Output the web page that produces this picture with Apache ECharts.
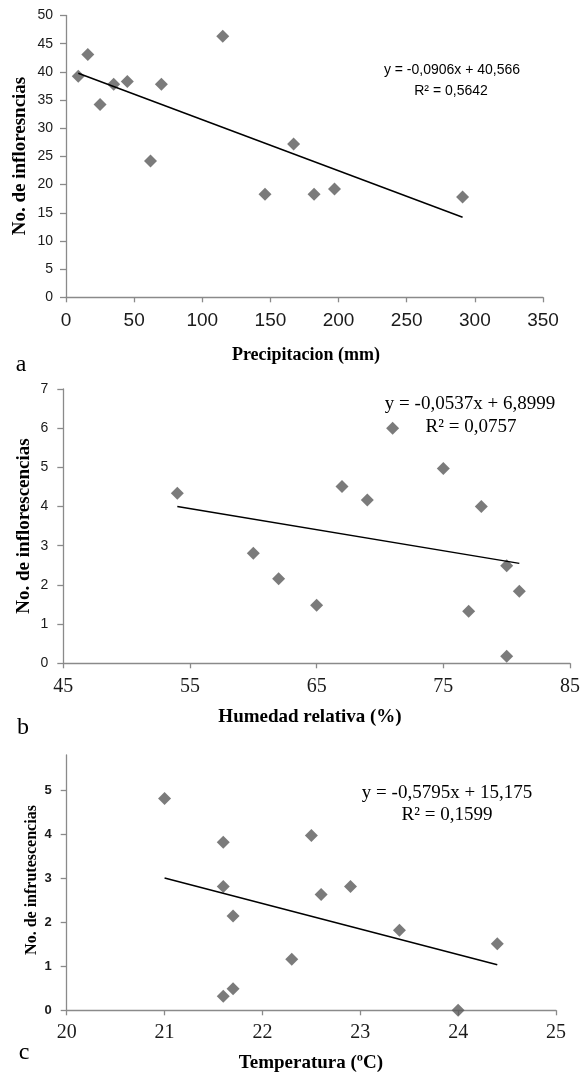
<!DOCTYPE html>
<html><head><meta charset="utf-8">
<script src="https://cdn.jsdelivr.net/npm/echarts@6/dist/echarts.min.js"></script>
<style>html,body{margin:0;padding:0;background:#fff}#c{width:586px;height:1074px}</style>
</head><body><div id="c"></div>
<script>
// Panel a: precipitation
const precipX = [9, 16, 25, 35, 45, 62, 70, 115, 146, 167, 182, 197, 291];
const precipY = [39.2, 43.1, 34.2, 37.8, 38.3, 24.2, 37.8, 46.3, 18.3, 27.2, 18.3, 19.2, 17.8];
const trendA = [-0.0906, 40.566];
const ticksAX = [0, 50, 100, 150, 200, 250, 300, 350];
const ticksAY = [0, 5, 10, 15, 20, 25, 30, 35, 40, 45, 50];
// Panel b: relative humidity
const humX = [54, 60, 62, 65, 67, 69, 71, 75, 77, 78, 80, 81, 80];
const humY = [4.34, 2.81, 2.16, 1.48, 4.51, 4.17, 6.0, 4.97, 1.33, 4.0, 2.49, 1.84, 0.18];
const trendB = [-0.0537, 6.8999];
const ticksBX = [45, 55, 65, 75, 85];
const ticksBY = [0, 1, 2, 3, 4, 5, 6, 7];
// Panel c: temperature
const tempX = [21.0, 21.6, 21.6, 21.7, 21.6, 21.7, 22.3, 22.5, 22.6, 22.9, 23.4, 24.0, 24.4];
const tempY = [4.81, 3.82, 2.81, 2.14, 0.32, 0.49, 1.16, 3.97, 2.63, 2.81, 1.82, 0.0, 1.51];
const trendC = [-0.5795, 15.175];
const ticksCX = [20, 21, 22, 23, 24, 25];
const ticksCY = [0, 1, 2, 3, 4, 5];

const SERIF = '"Liberation Serif", "Times New Roman", serif';
const SANS = '"Liberation Sans", Arial, sans-serif';
const NARROW = '"Liberation Sans Narrow", "Liberation Sans", Arial, sans-serif';
const AX = '#8a8a8a';
const MK = '#5a5a5a';

function pairs(xs, ys) { return xs.map((x, i) => [x, ys[i]]); }
function trend(xs, c) {
  const lo = Math.min(...xs), hi = Math.max(...xs);
  return [[lo, c[0] * lo + c[1]], [hi, c[0] * hi + c[1]]];
}
function xAx(gi, ticks, interval, font, size, margin) {
  return {
    type: 'value', gridIndex: gi, min: ticks[0], max: ticks[ticks.length - 1], interval: interval,
    splitLine: { show: false },
    axisLine: { lineStyle: { color: AX, width: 1.3 } },
    axisTick: { length: 5, lineStyle: { color: AX, width: 1.3 }, customValues: ticks },
    axisLabel: { customValues: ticks, color: '#1a1a1a', fontFamily: font, fontSize: size, margin: margin }
  };
}
function yAx(gi, ticks, max, interval, size, margin, weight) {
  return {
    type: 'value', gridIndex: gi, min: ticks[0], max: max, interval: interval,
    splitLine: { show: false },
    axisLine: { show: true, lineStyle: { color: AX, width: 1.3 } },
    axisTick: { show: true, length: 6, lineStyle: { color: AX, width: 1.3 }, customValues: ticks },
    axisLabel: { customValues: ticks, color: '#1a1a1a', fontFamily: SANS, fontSize: size, margin: margin, fontWeight: weight }
  };
}
function sc(gi, xs, ys) {
  return { type: 'scatter', xAxisIndex: gi, yAxisIndex: gi, data: pairs(xs, ys), symbol: 'diamond',
    symbolSize: 13, itemStyle: { color: MK }, z: 3, silent: true };
}
function tl(gi, xs, c) {
  return { type: 'line', xAxisIndex: gi, yAxisIndex: gi, data: trend(xs, c), symbol: 'none',
    lineStyle: { color: '#000', width: 1.5 }, z: 4, silent: true };
}
function txt(x, y, s, font, size, weight, rot) {
  return { type: 'text', x: x, y: y, rotation: rot || 0,
    style: { text: s, fontFamily: font, fontSize: size, fontWeight: weight || 'normal', fill: '#000',
      align: 'center', verticalAlign: 'middle' } };
}

const chart = echarts.init(document.getElementById('c'), null, { renderer: 'canvas' });
chart.setOption({
  animation: false,
  backgroundColor: '#fff',
  grid: [
    { left: 66, right: 43, top: 15.5, height: 281.8 },
    { left: 63.3, right: 16, top: 389, height: 274.3 },
    { left: 66.7, right: 30, top: 755, height: 255.3 }
  ],
  xAxis: [
    xAx(0, ticksAX, 50, NARROW, 19, 14),
    xAx(1, ticksBX, 5, SERIF, 20, 13),
    xAx(2, ticksCX, 1, SERIF, 20, 12)
  ],
  yAxis: [
    yAx(0, ticksAY, 50, 5, 14, 13, 'normal'),
    yAx(1, ticksBY, 7, 1, 14, 15, 'normal'),
    yAx(2, ticksCY, 5.8, 1, 13, 15, 'bold')
  ],
  series: [
    sc(0, precipX, precipY), tl(0, precipX, trendA),
    sc(1, humX, humY), tl(1, humX, trendB),
    sc(2, tempX, tempY), tl(2, tempX, trendC)
  ],
  graphic: [
    txt(452, 70, 'y = -0,0906x + 40,566', SANS, 14),
    txt(451, 91, 'R² = 0,5642', SANS, 14),
    txt(470, 404, 'y = -0,0537x + 6,8999', SERIF, 19),
    txt(471, 427, 'R² = 0,0757', SERIF, 19),
    txt(447, 793, 'y = -0,5795x + 15,175', SERIF, 19),
    txt(447, 815, 'R² = 0,1599', SERIF, 19),
    txt(20, 156, 'No. de infloresncias', SERIF, 19, 'bold', Math.PI / 2),
    txt(24, 526, 'No. de inflorescencias', SERIF, 19, 'bold', Math.PI / 2),
    txt(32, 880, 'No. de infrutescencias', SERIF, 16, 'bold', Math.PI / 2),
    txt(306, 355, 'Precipitacion (mm)', SERIF, 18, 'bold'),
    txt(310, 717, 'Humedad relativa (%)', SERIF, 19, 'bold'),
    txt(311, 1063, 'Temperatura (ºC)', SERIF, 19, 'bold'),
    txt(21, 365, 'a', SERIF, 24),
    txt(23, 728, 'b', SERIF, 24),
    txt(24, 1053, 'c', SERIF, 24)
  ]
});
</script></body></html>
